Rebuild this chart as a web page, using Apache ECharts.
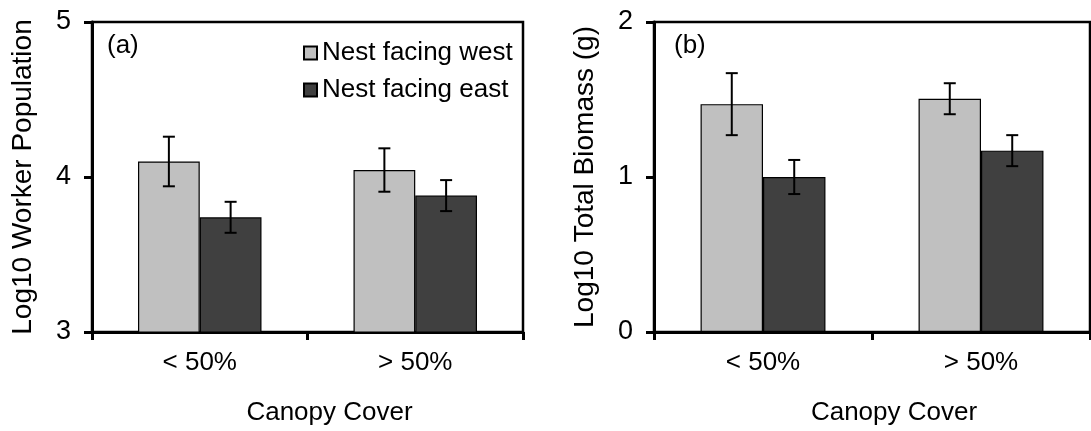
<!DOCTYPE html>
<html>
<head>
<meta charset="utf-8">
<script src="https://cdn.jsdelivr.net/npm/echarts@6/dist/echarts.min.js"></script>
<style>
  html, body { margin: 0; padding: 0; background: #fff; }
  #chart { width: 1091px; height: 431px; }
</style>
</head>
<body>
<div id="chart"></div>
<script>
// Canopy cover classes
const categories = ['< 50%', '> 50%'];
const seriesNames = ['Nest facing west', 'Nest facing east'];

// (a) log10 worker population: means and error half-widths
const workersWest = [4.10, 4.045];
const workersWestErr = [0.16, 0.14];
const workersEast = [3.74, 3.88];
const workersEastErr = [0.10, 0.10];

// (b) log10 total biomass (g): means and error half-widths
const biomassWest = [1.47, 1.505];
const biomassWestErr = [0.20, 0.10];
const biomassEast = [1.00, 1.17];
const biomassEastErr = [0.11, 0.10];

const yTicksA = [3, 4, 5];
const yTicksB = [0, 1, 2];

const FONT = "'Liberation Sans', Arial, sans-serif";
const WEST_COLOR = '#c0c0c0';
const EAST_COLOR = '#404040';
const CAT_GAP = 0.427;   // barCategoryGap fraction

const chart = echarts.init(document.getElementById('chart'), null, { renderer: 'canvas' });

function errorSeries(axisIdx, means, errs, side) {
  return {
    type: 'custom',
    xAxisIndex: axisIdx,
    yAxisIndex: axisIdx,
    z: 5,
    silent: true,
    data: means.map((m, i) => [i, m, errs[i]]),
    renderItem: function (params, api) {
      const i = api.value(0), m = api.value(1), e = api.value(2);
      const band = api.size([1, 0])[0];
      const barW = band * (1 - CAT_GAP) / 2;
      const c = api.coord([i, m]);
      const x = c[0] + side * barW / 2;
      const yTop = api.coord([i, m + e])[1];
      const yBot = api.coord([i, m - e])[1];
      const cap = 6;
      const st = { stroke: '#000', lineWidth: 2 };
      return {
        type: 'group',
        children: [
          { type: 'line', shape: { x1: x, y1: yTop, x2: x, y2: yBot }, style: st },
          { type: 'line', shape: { x1: x - cap, y1: yTop, x2: x + cap, y2: yTop }, style: st },
          { type: 'line', shape: { x1: x - cap, y1: yBot, x2: x + cap, y2: yBot }, style: st }
        ]
      };
    }
  };
}

function barSeries(axisIdx, name, values, color) {
  return {
    type: 'bar',
    name: name,
    xAxisIndex: axisIdx,
    yAxisIndex: axisIdx,
    data: values,
    barGap: '0%',
    barCategoryGap: (CAT_GAP * 100) + '%',
    itemStyle: { color: color, borderColor: '#000', borderWidth: 1.2 },
    emphasis: { disabled: true }
  };
}

function xAxisCfg(gridIdx) {
  return {
    type: 'category',
    gridIndex: gridIdx,
    data: categories,
    name: 'Canopy Cover',
    nameLocation: 'middle',
    nameGap: 68,
    nameTextStyle: { fontFamily: FONT, fontSize: 26, color: '#000', padding: [0, 0, 0, 44] },
    axisLine: { lineStyle: { color: '#000', width: 3 } },
    axisTick: { show: true, length: 8, lineStyle: { color: '#000', width: 3 } },
    axisLabel: { fontFamily: FONT, fontSize: 26, color: '#000', margin: 18 },
    splitLine: { show: false }
  };
}

function yAxisCfg(gridIdx, ticks, name) {
  return {
    type: 'value',
    gridIndex: gridIdx,
    min: ticks[0],
    max: ticks[ticks.length - 1],
    interval: 1,
    name: name,
    nameLocation: 'middle',
    nameGap: 55,
    nameTextStyle: { fontFamily: FONT, fontSize: 28, color: '#000' },
    axisLine: { show: true, lineStyle: { color: '#000', width: 3 } },
    axisTick: { show: true, length: 8, lineStyle: { color: '#000', width: 3 } },
    axisLabel: { fontFamily: FONT, fontSize: 27, color: '#000', margin: 21 },
    splitLine: { show: false }
  };
}

const option = {
  animation: false,
  backgroundColor: '#fff',
  textStyle: { fontFamily: FONT },
  grid: [
    { left: 92, right: 568, top: 22, bottom: 97, show: true, borderColor: '#000', borderWidth: 2.5, backgroundColor: 'transparent' },
    { left: 654, right: 1, top: 22, bottom: 98, show: true, borderColor: '#000', borderWidth: 2.5, backgroundColor: 'transparent' }
  ],
  xAxis: [xAxisCfg(0), xAxisCfg(1)],
  yAxis: [
    yAxisCfg(0, yTicksA, 'Log10 Worker Population'),
    yAxisCfg(1, yTicksB, 'Log10 Total Biomass (g)')
  ],
  legend: {
    data: seriesNames,
    orient: 'vertical',
    left: 298,
    top: 35,
    icon: 'rect',
    itemWidth: 13,
    itemHeight: 13,
    itemGap: 11,
    selectedMode: false,
    textStyle: { fontFamily: FONT, fontSize: 26, color: '#000' }
  },
  graphic: [
    { type: 'text', left: 107, top: 33, style: { text: '(a)', fontFamily: FONT, fontSize: 26, fill: '#000' } },
    { type: 'text', left: 674, top: 33, style: { text: '(b)', fontFamily: FONT, fontSize: 26, fill: '#000' } }
  ],
  series: [
    barSeries(0, seriesNames[0], workersWest, WEST_COLOR),
    barSeries(0, seriesNames[1], workersEast, EAST_COLOR),
    barSeries(1, seriesNames[0], biomassWest, WEST_COLOR),
    barSeries(1, seriesNames[1], biomassEast, EAST_COLOR),
    errorSeries(0, workersWest, workersWestErr, -1),
    errorSeries(0, workersEast, workersEastErr, 1),
    errorSeries(1, biomassWest, biomassWestErr, -1),
    errorSeries(1, biomassEast, biomassEastErr, 1)
  ]
};

chart.setOption(option);
</script>
</body>
</html>
